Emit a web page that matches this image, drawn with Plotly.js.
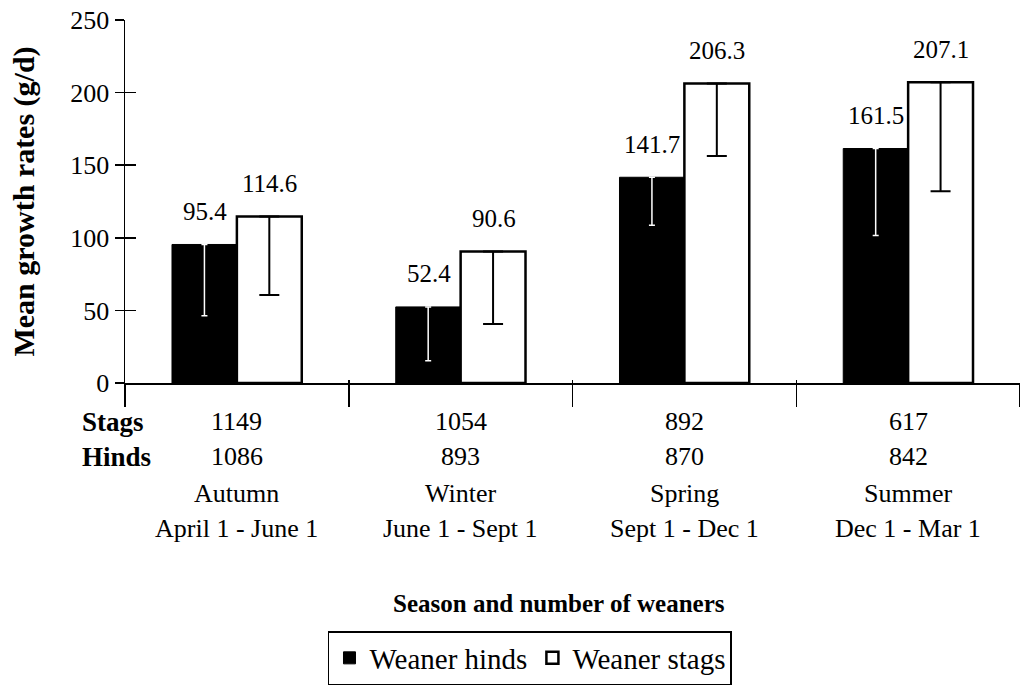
<!DOCTYPE html>
<html>
<head>
<meta charset="utf-8">
<script src="https://cdn.plot.ly/plotly-3.0.1.min.js"></script>
<style>html,body{margin:0;padding:0;background:#fff;}#chart{width:1020px;height:685px;}</style>
</head>
<body>
<div id="chart"></div>
<script>
const seasons = ['Autumn', 'Winter', 'Spring', 'Summer'];
const periods = ['April 1 - June 1', 'June 1 - Sept 1', 'Sept 1 - Dec 1', 'Dec 1 - Mar 1'];
const stagsN = [1149, 1054, 892, 617];
const hindsN = [1086, 893, 870, 842];
const hinds = [95.4, 52.4, 141.7, 161.5];
const stags = [114.6, 90.6, 206.3, 207.1];
const hindsErrMinus = [49, 37, 33, 60];
const stagsErrMinus = [54, 50, 50, 75];
const yTicks = [0, 50, 100, 150, 200, 250];

const F = 'Liberation Serif';

const traces = [
  {
    type: 'bar', name: 'Weaner hinds', x: seasons, y: hinds,
    marker: {color: '#000', line: {color: '#000', width: 1}},
    error_y: {type: 'data', symmetric: false, array: hinds.map(() => 0), arrayminus: hindsErrMinus,
              color: '#fff', thickness: 1.5, width: 3},
    hoverinfo: 'skip'
  },
  {
    type: 'bar', name: 'Weaner stags', x: seasons, y: stags,
    marker: {color: '#fff', line: {color: '#000', width: 2.5}},
    error_y: {type: 'data', symmetric: false, array: stags.map(() => 0), arrayminus: stagsErrMinus,
              color: '#000', thickness: 2, width: 10},
    hoverinfo: 'skip'
  },
  {
    type: 'scatter', mode: 'markers', x: [0], y: [0], xaxis: 'x2', yaxis: 'y2',
    marker: {opacity: 0}, showlegend: false, hoverinfo: 'skip'
  }
];

const annotations = [];
const fmt = v => v.toFixed(1);
const txt = (size) => ({family: F, size: size, color: '#000'});
seasons.forEach((s, i) => {
  annotations.push({x: s, y: hinds[i], xref: 'x', yref: 'y', text: fmt(hinds[i]), showarrow: false,
    xanchor: 'center', yanchor: 'middle', xshift: -32, yshift: 33, font: txt(25)});
  annotations.push({x: s, y: stags[i], xref: 'x', yref: 'y', text: fmt(stags[i]), showarrow: false,
    xanchor: 'center', yanchor: 'middle', xshift: 33, yshift: 33, font: txt(25)});
  annotations.push({x: s, y: -0.107, xref: 'x', yref: 'paper', text: String(stagsN[i]), showarrow: false,
    xanchor: 'center', yanchor: 'middle', font: txt(26)});
  annotations.push({x: s, y: -0.203, xref: 'x', yref: 'paper', text: String(hindsN[i]), showarrow: false,
    xanchor: 'center', yanchor: 'middle', font: txt(26)});
  annotations.push({x: s, y: -0.305, xref: 'x', yref: 'paper', text: seasons[i], showarrow: false,
    xanchor: 'center', yanchor: 'middle', font: txt(26)});
  annotations.push({x: s, y: -0.401, xref: 'x', yref: 'paper', text: periods[i], showarrow: false,
    xanchor: 'center', yanchor: 'middle', font: txt(26)});
});
annotations.push({x: -0.0503, y: -0.107, xref: 'paper', yref: 'paper', xanchor: 'left', yanchor: 'middle',
  text: '<b>Stags</b>', showarrow: false, font: txt(27)});
annotations.push({x: -0.0503, y: -0.203, xref: 'paper', yref: 'paper', xanchor: 'left', yanchor: 'middle',
  text: '<b>Hinds</b>', showarrow: false, font: txt(27)});
annotations.push({x: 0.485, y: -0.607, xref: 'paper', yref: 'paper', xanchor: 'center', yanchor: 'middle',
  text: '<b>Season and number of weaners</b>', showarrow: false, font: txt(25)});

const layout = {
  width: 1020, height: 685,
  font: {family: F, color: '#000'},
  margin: {l: 125, r: 0, t: 20, b: 301, pad: 0},
  paper_bgcolor: '#fff', plot_bgcolor: '#fff',
  barmode: 'group', bargap: 0.42, bargroupgap: 0,
  showlegend: true,
  legend: {orientation: 'h', x: 0.4525, xanchor: 'center', y: -0.684, yanchor: 'top',
    bordercolor: '#000', borderwidth: 1.5, bgcolor: '#fff',
    font: txt(29), traceorder: 'normal'},
  xaxis: {type: 'category', categoryarray: seasons, showticklabels: false,
    tickson: 'boundaries', ticks: 'outside', ticklen: 22, tickwidth: 1.5, tickcolor: '#000',
    showline: true, linecolor: '#000', linewidth: 1.5, showgrid: false, zeroline: false,
    range: [-0.5, 3.5], fixedrange: true},
  yaxis: {range: [0, 250], tickvals: yTicks, ticktext: yTicks.map(String), ticks: 'outside', ticklen: 9,
    tickwidth: 1.5, tickcolor: '#000', showline: true, linecolor: '#000', linewidth: 1.5,
    showgrid: false, zeroline: false, tickfont: txt(26),
    title: {text: '<b>Mean growth rates (g/d)</b>', font: txt(30), standoff: 27},
    fixedrange: true},
  xaxis2: {overlaying: 'x', range: [-0.5, 3.5], tickvals: [0.5, 1.5, 2.5], ticks: 'inside', ticklen: 3,
    tickwidth: 1.5, tickcolor: '#000', showticklabels: false, showline: false, showgrid: false, zeroline: false},
  yaxis2: {overlaying: 'y', range: [0, 250], tickvals: yTicks, ticks: 'inside', ticklen: 11,
    tickwidth: 1.5, tickcolor: '#000', showticklabels: false, showline: false, showgrid: false, zeroline: false},
  annotations: annotations
};

Plotly.newPlot('chart', traces, layout, {displayModeBar: false, staticPlot: true});
</script>
</body>
</html>
